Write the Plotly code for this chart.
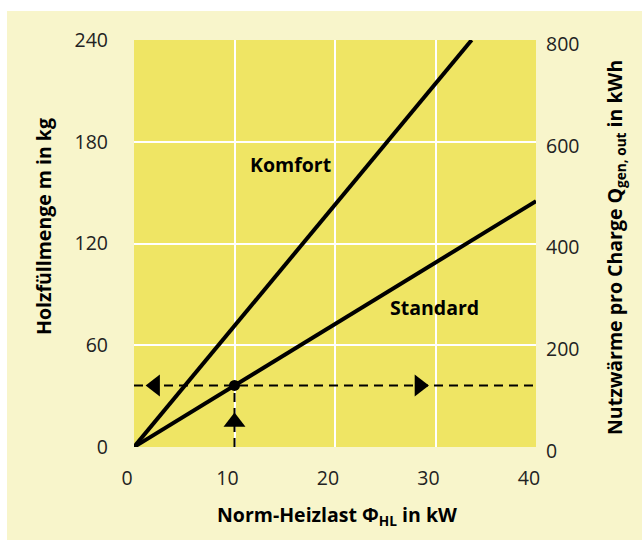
import plotly.graph_objects as go

# Data
x_ticks = [0, 10, 20, 30, 40]
y_ticks_kg = [0, 60, 120, 180, 240]
y_ticks_kwh = [0, 200, 400, 600, 800]

komfort_x = [0, 33.6]
komfort_y = [0, 240]
standard_x = [0, 40]
standard_y = [0, 145]

example_load = 10       # kW
example_mass = 36.3     # kg
arrow_left_x = 2.1
arrow_right_x = 28.4
arrow_up_y = 14.7

YELLOW = "#EFE564"
BEIGE = "#F8F5CB"
FONT = "Open Sans"

W, H = 642, 540
L, R, T, B = 134, 106, 40, 93
pw, ph = W - L - R, H - T - B

def px_x(px):
    return (px - L) / pw

def px_y(py):
    return (H - B - py) / ph

fig = go.Figure()

# dashed guide lines
fig.add_trace(go.Scatter(x=[0, 40], y=[example_mass, example_mass], mode="lines",
                         line=dict(color="black", width=2, dash="9px,6px"),
                         hoverinfo="skip", showlegend=False))
fig.add_trace(go.Scatter(x=[example_load, example_load], y=[0, example_mass], mode="lines",
                         line=dict(color="black", width=2, dash="9px,6px"),
                         hoverinfo="skip", showlegend=False))

# main lines
fig.add_trace(go.Scatter(x=komfort_x, y=komfort_y, mode="lines", name="Komfort",
                         line=dict(color="black", width=4), showlegend=False))
fig.add_trace(go.Scatter(x=standard_x, y=standard_y, mode="lines", name="Standard",
                         line=dict(color="black", width=4), showlegend=False))

# arrows and point
fig.add_trace(go.Scatter(x=[arrow_left_x], y=[example_mass], mode="markers",
                         marker=dict(symbol="triangle-left", size=19, color="black"),
                         showlegend=False, hoverinfo="skip"))
fig.add_trace(go.Scatter(x=[arrow_right_x], y=[example_mass], mode="markers",
                         marker=dict(symbol="triangle-right", size=19, color="black"),
                         showlegend=False, hoverinfo="skip"))
fig.add_trace(go.Scatter(x=[example_load], y=[arrow_up_y], mode="markers",
                         marker=dict(symbol="triangle-up", size=19, color="black"),
                         showlegend=False, hoverinfo="skip"))
fig.add_trace(go.Scatter(x=[example_load], y=[example_mass], mode="markers",
                         marker=dict(symbol="circle", size=11, color="black"),
                         showlegend=False, hoverinfo="skip"))

# secondary axis trace (invisible) to activate y2
fig.add_trace(go.Scatter(x=[0, 40], y=[0, 800], yaxis="y2", mode="lines",
                         line=dict(color="rgba(0,0,0,0)"), showlegend=False, hoverinfo="skip"))

tickfont = dict(family=FONT, size=19.5, color="#222222")

fig.update_layout(
    width=W, height=H,
    margin=dict(l=L, r=R, t=T, b=B),
    paper_bgcolor=BEIGE,
    plot_bgcolor=YELLOW,
    showlegend=False,
    xaxis=dict(range=[0, 40], tickvals=x_ticks, ticktext=[str(v) for v in x_ticks],
               showgrid=True, gridcolor="white", gridwidth=2, zeroline=False,
               showline=False, ticks="", tickfont=tickfont, ticklabelstandoff=17,
               ticklabelshift=-7),
    yaxis=dict(range=[0, 240], tickvals=y_ticks_kg, ticktext=[str(v) for v in y_ticks_kg],
               showgrid=True, gridcolor="white", gridwidth=2, zeroline=False,
               showline=False, ticks="", tickfont=tickfont, ticklabelstandoff=25),
    yaxis2=dict(range=[0, 800], tickvals=y_ticks_kwh, ticktext=[str(v) for v in y_ticks_kwh],
                overlaying="y", side="right", showgrid=False, zeroline=False,
                showline=False, ticks="", tickfont=tickfont, ticklabelstandoff=9,
                ticklabelshift=4),
    font=dict(family=FONT, color="black"),
)

title_font = dict(family=FONT, size=19.5, color="black")
common = dict(showarrow=False, xanchor="center", yanchor="middle", font=title_font)
annotations = [
    dict(text="<b>Komfort</b>", x=15.6, y=166.5, xref="x", yref="y", **common),
    dict(text="<b>Standard</b>", x=29.9, y=82.4, xref="x", yref="y", **common),
    dict(text="<b>Norm-Heizlast Φ<sub>HL</sub> in kW</b>", x=px_x(337), y=px_y(515),
         xref="paper", yref="paper", **common),
    dict(text="<b>Holzfüllmenge m in kg</b>", x=px_x(43), y=px_y(227),
         xref="paper", yref="paper", textangle=-90, **common),
    dict(text="<b>Nutzwärme pro Charge Q<sub>gen, out</sub> in kWh</b>", x=px_x(615), y=px_y(248),
         xref="paper", yref="paper", textangle=-90, **common),
]
fig.update_layout(annotations=annotations)

# white page edges at top and left (kept inside the figure)
fig.update_layout(shapes=[
    dict(type="rect", xref="paper", yref="paper", x0=px_x(0), x1=px_x(W), y0=px_y(11), y1=px_y(0),
         fillcolor="white", line=dict(width=0), layer="below"),
    dict(type="rect", xref="paper", yref="paper", x0=px_x(0), x1=px_x(7), y0=px_y(H), y1=px_y(0),
         fillcolor="white", line=dict(width=0), layer="below"),
])

fig.write_html("out.html",
               config={"displayModeBar": False},
               post_script="document.body.style.margin='0';"
                           "document.documentElement.style.overflow='hidden';")
